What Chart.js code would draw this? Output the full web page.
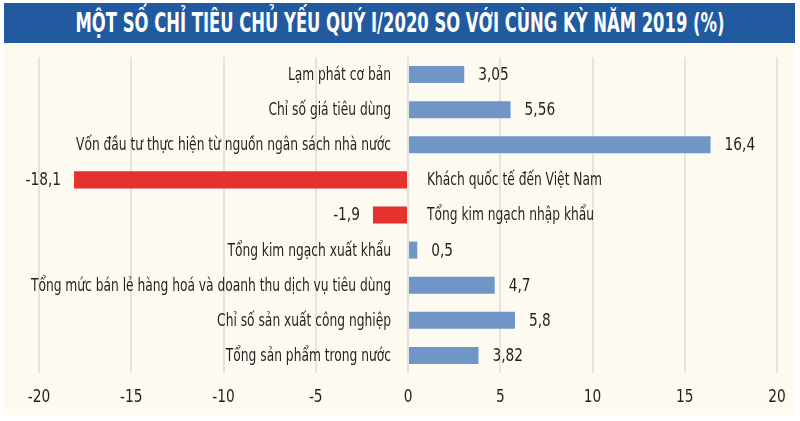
<!DOCTYPE html>
<html><head><meta charset="utf-8">
<script src="https://cdn.jsdelivr.net/npm/chart.js@4.4.1/dist/chart.umd.min.js"></script>
<style>
html,body{margin:0;padding:0;background:#ffffff;width:800px;height:421px;overflow:hidden;}
#bg{position:absolute;left:4px;top:44px;width:791px;height:371px;background:#fdfbf1;}
#title{position:absolute;left:4px;top:3px;width:791px;height:40px;background:#215a9f;overflow:hidden;}
#title span{position:absolute;left:50%;top:50%;white-space:nowrap;color:#fff;font-family:"Liberation Sans Narrow","DejaVu Sans Condensed",sans-serif;font-weight:bold;font-size:26px;}
#wrap{position:absolute;left:0;top:0;width:800px;height:421px;}
</style></head>
<body>
<div id="bg"></div>
<div id="title"><span id="tt">MỘT SỐ CHỈ TIÊU CHỦ YẾU QUÝ I/2020 SO VỚI CÙNG KỲ NĂM 2019 (%)</span></div>
<div id="wrap"><canvas id="c" width="800" height="421"></canvas></div>
<script>
const categories = [
  "Lạm phát cơ bản",
  "Chỉ số giá tiêu dùng",
  "Vốn đầu tư thực hiện từ nguồn ngân sách nhà nước",
  "Khách quốc tế đến Việt Nam",
  "Tổng kim ngạch nhập khẩu",
  "Tổng kim ngạch xuất khẩu",
  "Tổng mức bán lẻ hàng hoá và doanh thu dịch vụ tiêu dùng",
  "Chỉ số sản xuất công nghiệp",
  "Tổng sản phẩm trong nước"
];
const values = [3.05, 5.56, 16.4, -18.1, -1.9, 0.5, 4.7, 5.8, 3.82];
const valueLabels = ["3,05", "5,56", "16,4", "-18,1", "-1,9", "0,5", "4,7", "5,8", "3,82"];
const xTicks = [-20, -15, -10, -5, 0, 5, 10, 15, 20];

const FONT = '"DejaVu Sans Condensed","Liberation Sans Narrow",sans-serif';
const FONT_CSS = '17px ' + FONT;

// fit title width
(function(){
  const sp = document.getElementById('tt');
  const w = sp.getBoundingClientRect().width;
  const s = 649 / w;
  sp.style.transform = 'translate(-50%,-50%) scaleX(' + s + ')';
})();

let SX = 0.8;
(function(){
  const c = document.createElement('canvas').getContext('2d');
  c.font = FONT_CSS;
  SX = 315 / c.measureText(categories[2]).width;
})();
const SXN = SX * 1.12;

function narrowText(ctx, text, x, y, align, sx) {
  ctx.save();
  ctx.translate(x, y);
  ctx.scale(sx, 1);
  ctx.textAlign = align;
  ctx.fillText(text, 0, 0);
  ctx.restore();
}

const labelPlugin = {
  id: 'barLabels',
  afterDatasetsDraw(chart) {
    const ctx = chart.ctx;
    const xs = chart.scales.x;
    const meta = chart.getDatasetMeta(0);
    const zero = xs.getPixelForValue(0);
    ctx.save();
    ctx.fillStyle = '#231f20';
    ctx.textBaseline = 'middle';
    ctx.font = FONT_CSS;
    meta.data.forEach((bar, i) => {
      const v = values[i];
      const y = bar.y + 1;
      if (v >= 0) {
        narrowText(ctx, valueLabels[i], bar.x + 14, y, 'left', SXN);
        narrowText(ctx, categories[i], zero - 17, y, 'right', SX);
      } else {
        narrowText(ctx, valueLabels[i], bar.x - 13, y, 'right', SXN);
        narrowText(ctx, categories[i], zero + 19, y, 'left', SX);
      }
    });
    // x tick labels
    xTicks.forEach(t => {
      narrowText(ctx, String(t), xs.getPixelForValue(t), 398, 'center', SXN);
    });
    ctx.restore();
  }
};

new Chart(document.getElementById('c'), {
  type: 'bar',
  data: {
    labels: categories,
    datasets: [{
      data: values,
      backgroundColor: values.map(v => v < 0 ? '#e5322f' : '#7096c8'),
      borderWidth: 0,
      barPercentage: 0.97,
      categoryPercentage: 0.5
    }]
  },
  options: {
    indexAxis: 'y',
    responsive: false,
    animation: false,
    devicePixelRatio: 1,
    layout: { padding: { left: 39, right: 23, top: 57, bottom: 0 } },
    plugins: { legend: { display: false }, title: { display: false }, tooltip: { enabled: false } },
    scales: {
      y: { display: false },
      x: {
        min: -20, max: 20,
        afterBuildTicks(scale) { scale.ticks = xTicks.map(v => ({ value: v })); },
        afterFit(scale) { scale.height = 48; },
        border: { display: false },
        grid: { color: '#e6e3dc', lineWidth: 2, drawTicks: false },
        ticks: { display: false }
      }
    }
  },
  plugins: [labelPlugin]
});
</script>
</body></html>
